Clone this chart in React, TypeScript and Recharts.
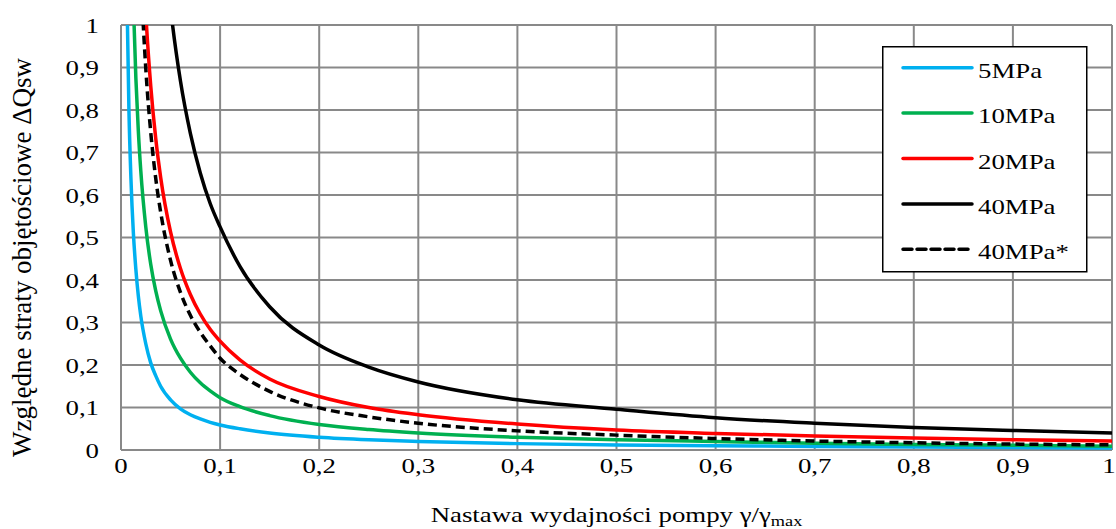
import React from 'react';
import { LineChart, Line, XAxis, YAxis, CartesianGrid, Legend } from 'recharts';

const xs = [0.005, 0.006, 0.008, 0.01, 0.0125, 0.015, 0.0175, 0.02, 0.025, 0.03, 0.035, 0.04, 0.05, 0.06, 0.07, 0.08, 0.09, 0.1, 0.12, 0.15, 0.2, 0.25, 0.3, 0.4, 0.5, 0.6, 0.7, 0.8, 0.9, 1.0];

const mpa5 = [1.28, 1.07, 0.8, 0.64, 0.51, 0.425, 0.362, 0.315, 0.25, 0.205, 0.175, 0.15, 0.118, 0.097, 0.083, 0.073, 0.065, 0.059, 0.05, 0.04, 0.03, 0.024, 0.02, 0.015, 0.012, 0.01, 0.0085, 0.0072, 0.006, 0.005];
const mpa10 = [2.62, 2.18, 1.64, 1.31, 1.05, 0.875, 0.75, 0.656, 0.525, 0.437, 0.375, 0.328, 0.261, 0.216, 0.183, 0.158, 0.139, 0.123, 0.102, 0.081, 0.06, 0.048, 0.04, 0.03, 0.024, 0.02, 0.016, 0.013, 0.011, 0.009];
const mpa20 = [5.14, 4.28, 3.21, 2.57, 2.06, 1.71, 1.47, 1.285, 1.028, 0.857, 0.734, 0.642, 0.513, 0.427, 0.366, 0.32, 0.284, 0.256, 0.212, 0.167, 0.126, 0.1, 0.083, 0.061, 0.047, 0.039, 0.033, 0.028, 0.024, 0.021];
const mpa40 = [10.4, 8.67, 6.5, 5.2, 4.16, 3.47, 2.97, 2.6, 2.08, 1.735, 1.487, 1.301, 1.041, 0.868, 0.745, 0.652, 0.58, 0.525, 0.432, 0.337, 0.247, 0.195, 0.16, 0.118, 0.096, 0.076, 0.063, 0.053, 0.046, 0.04];
const mpa40s = [4.5, 3.75, 2.81, 2.25, 1.8, 1.5, 1.285, 1.124, 0.898, 0.748, 0.64, 0.56, 0.446, 0.371, 0.317, 0.277, 0.245, 0.216, 0.178, 0.138, 0.099, 0.078, 0.063, 0.045, 0.035, 0.027, 0.021, 0.017, 0.014, 0.012];

const xTicks = [0, 0.1, 0.2, 0.3, 0.4, 0.5, 0.6, 0.7, 0.8, 0.9, 1];
const yTicks = [0, 0.1, 0.2, 0.3, 0.4, 0.5, 0.6, 0.7, 0.8, 0.9, 1];

const series = [
  { key: 'p5', name: '5MPa', color: '#00B0F0', values: mpa5, dash: undefined as string | undefined },
  { key: 'p10', name: '10MPa', color: '#00B050', values: mpa10, dash: undefined },
  { key: 'p20', name: '20MPa', color: '#FF0000', values: mpa20, dash: undefined },
  { key: 'p40', name: '40MPa', color: '#000000', values: mpa40, dash: undefined },
  { key: 'p40s', name: '40MPa*', color: '#000000', values: mpa40s, dash: '9 5' },
];

const rows = xs.map((x, i) => {
  const r: Record<string, number> = { x };
  series.forEach((s) => {
    r[s.key] = s.values[i];
  });
  return r;
});

const FONT = '"Liberation Serif", "Times New Roman", serif';
const FS = 22;
const SX = 1.22;
const GRID = '#898989';

const fmt = (v: number) => String(v).replace('.', ',');

const XTick = (props: any) => {
  const { x, y, payload } = props;
  const dx = payload.value === 1 ? -3 : 0;
  return (
    <text
      transform={`translate(${x + dx},${y + 23}) scale(${SX},1)`}
      textAnchor="middle"
      fontFamily={FONT}
      fontSize={FS}
      fill="#000"
    >
      {fmt(payload.value)}
    </text>
  );
};

const YTick = (props: any) => {
  const { x, y, payload } = props;
  return (
    <text
      transform={`translate(${x},${y + 7.5}) scale(${SX},1)`}
      textAnchor="end"
      fontFamily={FONT}
      fontSize={FS}
      fill="#000"
    >
      {fmt(payload.value)}
    </text>
  );
};

const XTitle = (props: any) => {
  const vb = props.viewBox || {};
  const cx = vb.x + vb.width / 2;
  const y = vb.y + 72;
  return (
    <text
      transform={`translate(${cx},${y}) scale(${SX},1)`}
      textAnchor="middle"
      fontFamily={FONT}
      fontSize={FS}
      fill="#000"
    >
      Nastawa wydajności pompy γ/γ
      <tspan fontSize={15} dy={4}>max</tspan>
    </text>
  );
};

const YTitle = (props: any) => {
  const vb = props.viewBox || {};
  const cy = vb.y + vb.height / 2 + 20;
  return (
    <text
      transform={`translate(31,${cy}) rotate(-90)`}
      textAnchor="middle"
      fontFamily={FONT}
      fontSize={27}
      fill="#000"
    >
      Względne straty objętościowe ΔQsw
    </text>
  );
};

const LegendBox = () => (
  <svg width={206} height={227} style={{ display: 'block' }}>
    <rect x={0.75} y={0.75} width={204} height={225} fill="#fff" stroke="#000" strokeWidth={1.5} />
    {series.map((s, i) => {
      const ly = 21.7 + i * 45.4;
      return (
        <g key={s.key}>
          <line
            x1={21}
            x2={90}
            y1={ly}
            y2={ly}
            stroke={s.color}
            strokeWidth={3.5}
            strokeDasharray={s.dash}
            strokeLinecap="round"
          />
          <text
            transform={`translate(96,${ly + 10}) scale(${SX},1)`}
            fontFamily={FONT}
            fontSize={FS}
            fill="#000"
          >
            {s.name}
          </text>
        </g>
      );
    })}
  </svg>
);

export default function App() {
  return (
    <div style={{ width: 1116, height: 529, position: 'relative' }}>
      <style>{'html, body { margin: 0; padding: 0; }'}</style>
      <LineChart width={1116} height={529} data={rows} margin={{ top: 25, right: 4, left: 0, bottom: 8 }}>
        <CartesianGrid stroke={GRID} strokeWidth={2} />
        <XAxis
          dataKey="x"
          type="number"
          domain={[0, 1]}
          ticks={xTicks}
          allowDataOverflow
          height={71}
          tickLine={false}
          axisLine={false}
          tickSize={0}
          tickMargin={0}
          tick={<XTick />}
          interval={0}
          label={<XTitle />}
        />
        <YAxis
          type="number"
          domain={[0, 1]}
          ticks={yTicks}
          allowDataOverflow
          width={121}
          tickLine={false}
          axisLine={false}
          tickSize={0}
          tickMargin={22}
          tick={<YTick />}
          interval={0}
          label={<YTitle />}
        />
        {series.map((s) => (
          <Line
            key={s.key}
            type="monotone"
            dataKey={s.key}
            name={s.name}
            stroke={s.color}
            strokeWidth={3.5}
            strokeDasharray={s.dash}
            dot={false}
            activeDot={false}
            isAnimationActive={false}
          />
        ))}
        <Legend
          layout="vertical"
          align="center"
          verticalAlign="middle"
          wrapperStyle={{ position: 'absolute', left: 882, top: 46, width: 206, height: 227 }}
          content={<LegendBox />}
        />
      </LineChart>
    </div>
  );
}
